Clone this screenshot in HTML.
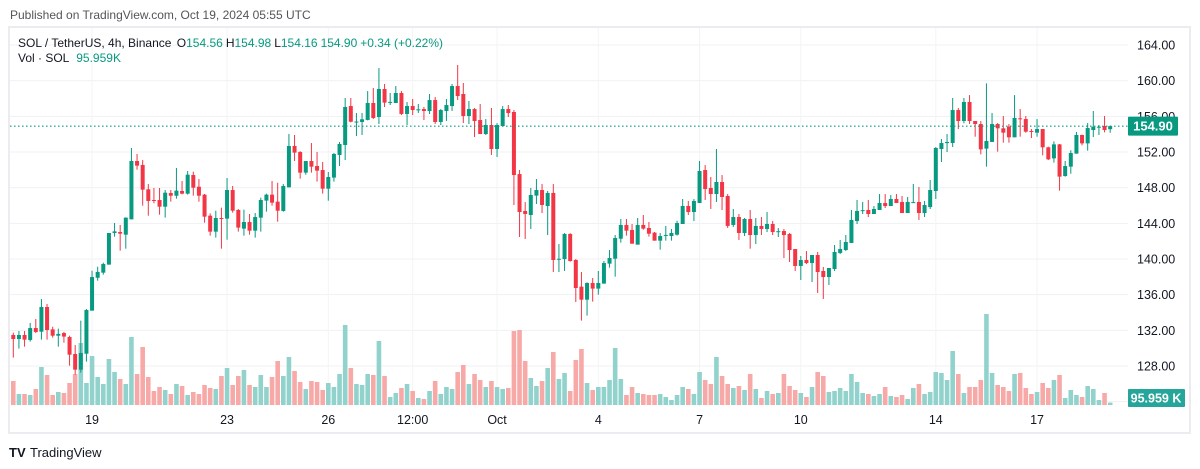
<!DOCTYPE html>
<html><head><meta charset="utf-8"><style>
html,body{margin:0;padding:0;background:#fff;width:1200px;height:469px;overflow:hidden}
svg{display:block;font-family:"Liberation Sans",Arial,sans-serif}
</style></head><body>
<svg id="chart" width="1200" height="469" viewBox="0 0 1200 469" xmlns="http://www.w3.org/2000/svg">
<text x="10" y="19" font-size="12" fill="#555">Published on TradingView.com, Oct 19, 2024 05:55 UTC</text>
<rect x="9" y="27" width="1181" height="406" fill="#fff" stroke="#ebebf0" stroke-width="2"/>
<g id="grid"></g>
<g id="vols"></g>
<g id="candles"></g>
<g id="yaxis"></g>
<g id="xaxis"></g>
<line id="lastline" x1="10" x2="1128" y1="0" y2="0" stroke="#089981" stroke-width="1.2" stroke-dasharray="1.5,2.5"/>
<g><rect id="lastbox" x="1128" y="117" width="50" height="19" rx="1" fill="#089981"/><text id="lasttxt" x="1153" y="131" font-size="13" font-weight="bold" fill="#fff" text-anchor="middle">154.90</text></g>
<g><rect x="1128" y="389" width="57" height="18" rx="1" fill="#26a69a"/><text x="1156" y="402.5" font-size="12.5" font-weight="bold" fill="#fff" text-anchor="middle">95.959 K</text></g>
<text x="18" y="47" font-size="12" fill="#131722">SOL / TetherUS, 4h, Binance <tspan dx="2">O</tspan><tspan fill="#089981">154.56</tspan><tspan dx="3">H</tspan><tspan fill="#089981">154.98</tspan><tspan dx="3">L</tspan><tspan fill="#089981">154.16</tspan><tspan dx="3" fill="#089981">154.90</tspan><tspan dx="3" fill="#089981">+0.34 (+0.22%)</tspan></text>
<text x="18" y="62" font-size="12" fill="#131722">Vol · SOL <tspan dx="4" fill="#089981">95.959K</tspan></text>
<g><text x="9" y="457" font-size="13" font-weight="bold" fill="#131722">TV</text><text x="30" y="457" font-size="13" fill="#131722">TradingView</text></g>
</svg>
<script>
const opens=[131.48,131.03,131.48,130.92,132.26,131.85,134.62,132.11,131.40,131.70,131.25,129.35,127.59,129.38,134.21,137.90,138.47,139.37,142.92,143.03,142.73,144.45,150.99,150.55,147.82,146.62,146.62,145.87,147.40,147.10,147.63,147.33,149.42,148.11,
147.22,144.86,143.07,144.60,144.53,147.74,145.50,143.41,144.15,143.18,144.64,146.55,147.22,146.43,145.39,148.04,152.68,152.00,149.69,150.99,150.43,149.98,147.89,149.13,151.67,152.79,157.16,155.40,155.37,155.60,157.50,155.93,159.07,
157.57,157.50,158.62,156.27,157.16,156.71,156.82,156.60,157.83,155.37,156.60,157.16,159.40,158.51,156.04,156.82,155.59,154.02,155.03,152.34,154.92,156.82,156.49,149.53,145.39,144.94,147.11,147.74,145.94,147.41,139.99,139.99,142.81,139.89,
136.90,135.44,137.31,136.68,137.24,139.48,140.04,142.28,143.82,143.26,141.61,143.82,143.48,142.96,142.06,142.66,142.58,142.73,143.93,145.95,145.27,146.28,149.98,147.97,147.29,148.64,147.07,143.82,144.71,142.92,144.49,142.69,143.71,143.37,
143.93,143.10,143.14,142.81,141.12,139.22,139.89,139.55,140.45,138.66,137.98,138.88,140.68,141.01,141.80,144.26,145.44,145.50,145.05,145.50,146.28,145.94,146.73,146.40,145.16,146.34,146.40,145.16,145.83,147.63,152.34,153.00,153.01,156.71,
155.48,157.61,155.48,155.14,152.38,153.13,155.14,154.66,154.85,153.65,155.78,155.70,154.36,154.17,154.58,152.53,151.29,152.86,149.31,150.36,151.82,153.91,152.97,154.47,154.80,154.92,154.56];
const highs=[131.74,131.93,131.93,132.83,133.27,135.52,134.96,132.41,132.19,131.82,131.40,130.36,133.09,134.40,138.69,139.14,139.59,142.92,144.04,143.82,144.68,152.45,151.78,151.10,148.41,147.97,147.97,147.74,147.74,150.21,148.75,149.87,149.80,148.97,
147.30,145.12,145.42,145.76,149.09,148.19,145.61,145.54,145.05,145.16,146.88,147.33,148.75,148.56,148.41,154.02,153.91,152.10,150.99,153.01,152.00,150.88,149.76,151.89,153.12,158.06,158.06,156.38,156.38,158.84,159.18,161.42,159.63,
158.62,159.40,158.84,157.61,157.95,157.39,157.05,158.51,158.17,156.82,157.95,159.63,161.76,159.74,157.72,156.94,157.39,155.70,156.94,155.25,157.16,157.27,156.71,149.98,146.39,147.97,148.97,148.41,147.63,148.41,141.68,142.92,142.90,140.00,
138.55,137.39,137.87,138.66,139.78,141.01,142.69,144.49,144.49,143.93,144.60,144.94,144.15,143.03,142.92,143.71,143.37,144.30,146.73,146.51,146.73,151.00,150.54,149.20,152.34,149.42,147.29,145.61,145.05,144.60,145.50,144.60,144.71,145.27,
144.26,143.48,143.37,142.92,141.12,140.34,140.90,140.45,140.79,139.11,138.99,141.57,142.13,142.69,145.50,146.62,146.39,146.62,145.94,147.29,147.29,147.18,147.29,147.07,146.96,148.41,148.08,146.51,148.86,152.56,153.46,154.02,158.06,156.94,
158.06,158.39,155.48,155.48,159.70,156.38,155.25,156.04,155.14,158.39,156.82,156.04,154.58,155.70,154.58,152.60,153.20,152.90,150.99,152.20,154.25,153.95,155.25,156.60,155.03,156.04,154.98];
const lows=[128.94,129.95,130.17,130.73,131.70,130.96,130.96,131.18,130.17,130.62,128.04,127.03,127.26,128.49,134.21,137.57,138.25,139.37,142.51,140.94,141.16,144.45,150.02,145.98,144.86,146.25,144.97,144.64,146.43,146.77,147.26,147.22,147.11,146.43,
144.08,142.62,142.40,141.16,142.17,145.20,143.07,142.62,142.73,142.40,143.07,145.31,145.98,144.19,145.31,148.04,150.99,149.01,149.46,149.69,148.68,147.33,146.54,148.68,150.43,151.10,155.33,153.80,153.91,155.55,155.70,155.14,157.05,
157.27,157.50,156.15,155.03,156.15,156.38,155.59,156.26,155.14,155.03,155.48,156.60,157.83,155.25,155.14,153.68,154.02,153.91,151.67,151.44,154.92,155.93,146.06,142.47,142.25,143.37,146.17,145.16,142.69,138.54,138.54,138.66,139.70,135.18,
133.09,133.65,135.22,136.00,137.24,139.03,138.02,141.83,142.62,141.72,141.61,143.29,142.51,142.06,141.05,142.06,142.06,142.62,143.93,144.94,144.26,146.28,146.62,145.61,146.40,145.50,143.48,143.59,142.13,142.58,141.16,141.69,142.69,143.03,
142.69,142.47,140.11,139.67,138.66,137.65,139.44,137.42,136.19,135.52,137.09,138.66,140.56,140.90,141.80,143.93,145.05,144.71,145.05,145.50,145.72,145.94,146.28,145.16,145.16,146.32,144.38,144.71,145.61,146.73,150.88,152.00,152.56,154.58,
155.22,155.14,153.72,151.74,150.36,153.12,152.04,153.05,153.05,153.65,153.72,154.17,153.57,153.72,151.63,151.10,150.81,147.67,149.24,149.57,151.82,152.75,152.15,153.68,153.91,154.21,154.16];
const closes=[131.03,131.48,130.96,132.26,131.82,134.62,132.04,131.40,131.60,131.30,129.27,127.59,129.46,134.28,137.98,138.55,139.44,142.92,143.10,142.84,144.64,150.99,150.47,147.78,146.51,146.51,145.87,147.44,147.10,147.67,147.33,149.46,148.00,147.10,
144.75,143.07,144.60,144.50,147.74,145.42,143.52,144.15,143.18,144.71,146.62,147.22,146.32,145.42,148.19,152.68,151.93,149.69,150.99,150.36,149.91,147.89,149.20,151.78,152.90,157.05,155.40,155.42,155.67,157.50,155.82,159.07,157.54,
157.62,158.62,156.27,157.16,156.71,156.79,156.60,157.83,155.37,156.71,157.27,159.40,158.28,156.04,156.82,155.48,154.02,155.03,152.34,155.03,156.82,156.37,149.42,145.27,145.05,147.18,147.74,146.06,147.41,139.89,140.03,142.81,139.78,136.75,
135.44,137.31,136.68,137.31,139.55,140.11,142.36,143.82,143.18,141.72,143.82,143.41,142.84,142.06,142.58,142.70,142.92,144.04,145.95,145.27,146.51,149.87,147.85,147.29,148.64,146.96,143.71,144.71,142.92,144.49,142.69,143.71,143.37,143.93,
143.03,143.12,142.69,141.01,139.22,139.89,139.55,140.45,138.54,137.98,138.99,140.79,141.12,141.91,144.38,145.39,145.48,145.05,145.61,146.28,145.94,146.73,146.28,145.16,146.40,146.38,145.16,146.06,147.74,152.45,153.01,153.13,156.71,155.48,
157.61,155.48,155.14,152.30,153.24,155.14,154.66,154.17,153.65,155.82,155.67,154.28,154.32,154.58,152.53,151.18,152.86,149.24,150.43,151.89,153.91,152.97,154.69,154.84,154.84,154.47,154.90];
const volumes=[960,440,440,400,640,1520,1200,400,520,480,880,1240,2480,880,1960,1120,840,1840,1320,1040,840,2720,1240,2320,1120,560,720,600,440,840,760,400,520,440,
800,680,640,1160,1480,800,1160,1400,800,720,1200,720,1120,1760,1160,1920,1360,920,640,960,920,600,880,720,1240,3200,1480,840,800,1240,1200,2560,1160,
320,480,680,840,560,280,240,560,960,440,720,640,1320,1600,840,1240,1000,720,960,720,640,680,2960,3000,1760,1080,760,960,1480,2120,1040,1280,560,1800,
2240,880,600,720,720,1000,2280,1040,400,720,480,440,400,400,440,320,200,400,720,640,440,1320,1000,840,1920,1160,840,680,760,600,1240,640,280,560,
440,480,1240,760,600,480,320,720,1320,1160,520,560,680,560,1240,920,480,440,360,440,720,360,320,400,240,680,840,440,520,1320,1280,1000,2160,1240,
480,720,720,1000,3640,1280,800,720,560,1240,1280,680,440,520,880,680,1000,1200,280,600,400,320,760,640,200,480,96];
const priceTicks=[164,160,156,152,148,144,140,136,132,128];
const timeLabels=["19","23","26","12:00","Oct","4","7","10","14","17"];
const timeLabelIdx=[14,38,56,71,86,104,122,140,164,182];

const NS="http://www.w3.org/2000/svg";
const X0=13.3, STEP=5.625, PLOT_R=1128;
function xOf(i){return X0+STEP*i;}
function yOf(p){return 80.7+(160-p)*8.916;}
const VBASE=405, VPX=40;
function vh(v){return v/VPX;}
function mk(tag,attrs,parent){const e=document.createElementNS(NS,tag);for(const k in attrs)e.setAttribute(k,attrs[k]);parent.appendChild(e);return e;}

const grid=document.getElementById('grid');
priceTicks.concat([124]).forEach(p=>{
  const l=mk('line',{x1:10,x2:PLOT_R,y1:yOf(p),y2:yOf(p),stroke:'#f0f1f4','stroke-width':1},grid);
  
  
});
timeLabelIdx.forEach(i=>{
  const l=mk('line',{x1:xOf(i),x2:xOf(i),y1:28,y2:407,stroke:'#f3f4f6','stroke-width':1},grid);
  
  
});

const vg=document.getElementById('vols');
volumes.forEach((v,i)=>{
  const up=closes[i]>=opens[i];
  const h=vh(v);
  const r=mk('rect',{x:xOf(i)-2.3,y:VBASE-h,width:4.6,height:h,fill:up?'#92d2cc':'#f7a9a7'},vg);
  
  
});

const cg=document.getElementById('candles');
opens.forEach((o,i)=>{
  const c=closes[i], up=c>=o, col=up?'#089981':'#f23645';
  const g=mk('g',{},cg);
  
  
  const x=xOf(i);
  mk('line',{x1:x,x2:x,y1:yOf(highs[i]),y2:yOf(lows[i]),stroke:col,'stroke-width':1},g);
  const top=yOf(Math.max(o,c)), bot=yOf(Math.min(o,c));
  mk('rect',{x:x-2,y:top,width:4,height:Math.max(1,bot-top),fill:col},g);
});

const ya=document.getElementById('yaxis');
priceTicks.forEach(p=>{
  const t=mk('text',{x:1137,y:yOf(p)+4.5,'font-size':12.5,fill:'#131722'},ya);
  t.textContent=p.toFixed(2);
  
  
});
const xa=document.getElementById('xaxis');
timeLabels.forEach((s,k)=>{
  const t=mk('text',{x:xOf(timeLabelIdx[k]),y:424,'font-size':12.5,fill:'#131722','text-anchor':'middle'},xa);
  t.textContent=s;
  
  
});
const last=closes[closes.length-1];
const ll=document.getElementById('lastline');
ll.setAttribute('y1',yOf(last));ll.setAttribute('y2',yOf(last));
document.getElementById('lastbox').setAttribute('y',yOf(last)-9.5);
document.getElementById('lasttxt').setAttribute('y',yOf(last)+4.5);
</script>
</body></html>
